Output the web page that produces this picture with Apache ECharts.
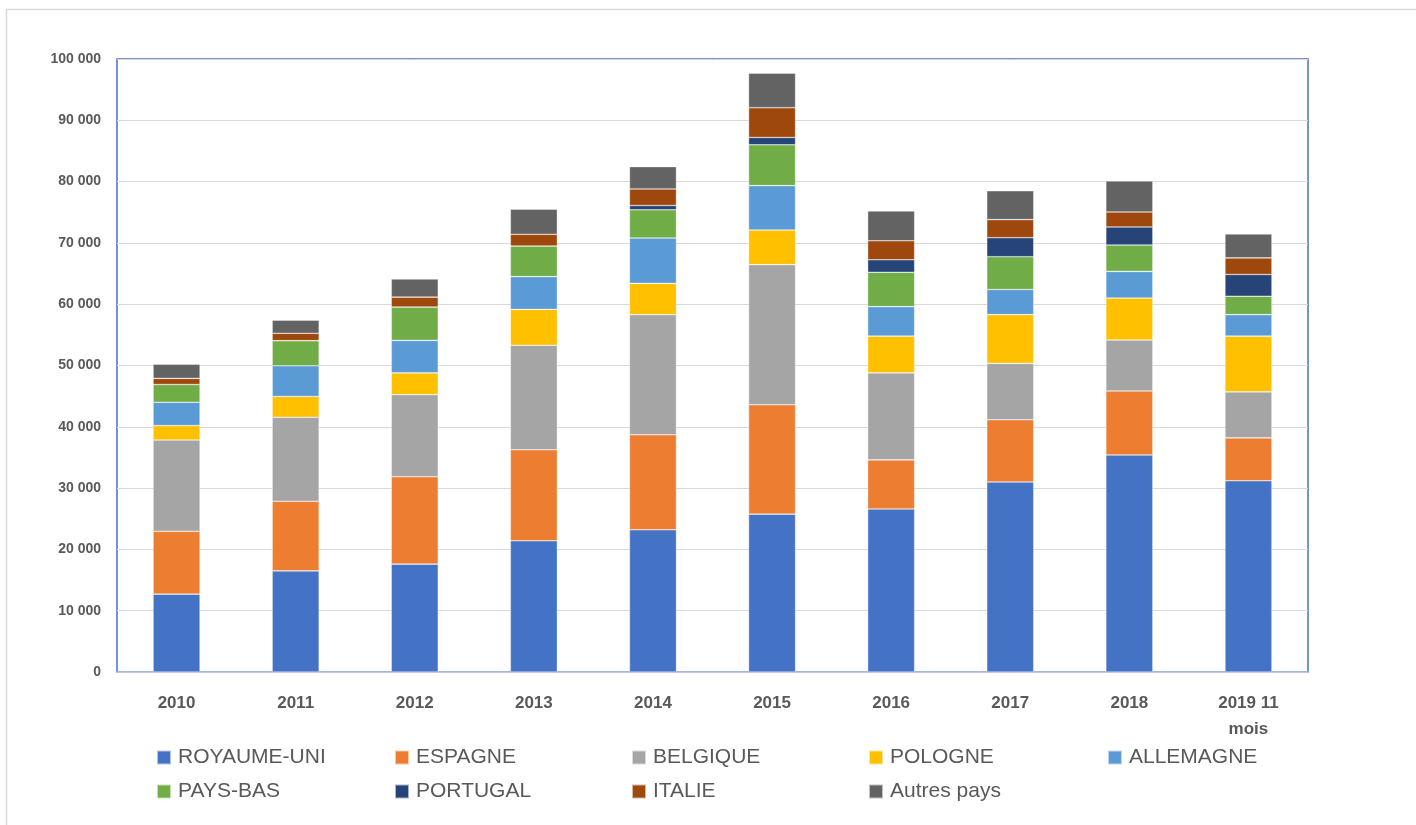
<!DOCTYPE html>
<html>
<head>
<meta charset="utf-8">
<script src="https://cdn.jsdelivr.net/npm/echarts@6/dist/echarts.min.js"></script>
<style>
html,body{margin:0;padding:0;background:#fff;}
#chart{width:1416px;height:825px;}
</style>
</head>
<body>
<div id="chart"></div>
<script>
const categories = ['2010','2011','2012','2013','2014','2015','2016','2017','2018','2019 11\nmois'];
const seriesNames = ['ROYAUME-UNI','ESPAGNE','BELGIQUE','POLOGNE','ALLEMAGNE','PAYS-BAS','PORTUGAL','ITALIE','Autres pays'];
const royaumeUni = [12700,16500,17600,21400,23200,25750,26600,31000,35400,31200];
const espagne    = [10250,11350,14250,14850,15500,17850,8000,10150,10450,7000];
const belgique   = [14900,13700,13400,17050,19600,22850,14200,9200,8300,7500];
const pologne    = [2350,3400,3550,5850,5100,5650,6000,7950,6850,9100];
const allemagne  = [3800,5000,5300,5350,7400,7250,4800,4100,4350,3500];
const paysBas    = [2900,4100,5450,5000,4600,6650,5600,5350,4300,3000];
const portugal   = [0,0,0,0,700,1200,2050,3100,2950,3550];
const italie     = [1000,1200,1600,1900,2700,4850,3100,2950,2450,2700];
const autres     = [2300,2150,2950,4100,3650,5650,4850,4700,5050,3900];
const yTicks = [0,10000,20000,30000,40000,50000,60000,70000,80000,90000,100000];

const seriesData = [royaumeUni,espagne,belgique,pologne,allemagne,paysBas,portugal,italie,autres];
const colors = ['#4472C4','#ED7D31','#A5A5A5','#FFC000','#5B9BD5','#70AD47','#264478','#9E480E','#636363'];
const legendPos = [
  [156,747],[394,747],[631,747],[868,747],[1107,747],
  [156,781],[394,781],[631,781],[868,781]
];

const chart = echarts.init(document.getElementById('chart'));
const fmt = v => String(v).replace(/\B(?=(\d{3})+(?!\d))/g, ' ');

chart.setOption({
  animation:false,
  backgroundColor:'#fff',
  color: colors,
  graphic:[{
    type:'rect', shape:{x:6.5,y:9.5,width:1500,height:900},
    style:{fill:'none',stroke:'#d9d9d9',lineWidth:1.5}, silent:true, z:-1
  }],
  grid:{left:117,right:108,top:59,bottom:153,show:true,borderColor:'#4472C4',borderWidth:1.5,backgroundColor:'transparent'},
  legend: seriesNames.map((n,i)=>({
    data:[n], left:legendPos[i][0], top:legendPos[i][1], padding:0,
    itemWidth:14, itemHeight:14, itemGap:7, icon:'rect',
    textStyle:{fontSize:21,color:'#595959',fontFamily:'Liberation Sans, Arial, sans-serif',padding:[0,0,0,2]}
  })),
  xAxis:{
    type:'category', data:categories,
    axisLine:{show:true,lineStyle:{color:'#b4c2dc',width:1.5}},
    axisTick:{show:false},
    axisLabel:{fontSize:17,fontWeight:'bold',color:'#595959',margin:18,lineHeight:26,interval:0,fontFamily:'Liberation Sans, Arial, sans-serif'}
  },
  yAxis:{
    type:'value', min:0, max:100000, interval:10000,
    axisLine:{show:false}, axisTick:{show:false},
    splitLine:{lineStyle:{color:'#d9d9d9',width:1}},
    axisLabel:{fontSize:14,fontWeight:'bold',color:'#595959',margin:16,fontFamily:'Liberation Sans, Arial, sans-serif',
      formatter:v=>fmt(v)}
  },
  series: seriesNames.map((n,i)=>({
    name:n, type:'bar', stack:'total', barWidth:47,
    data: seriesData[i],
    itemStyle:{color:colors[i],borderColor:'rgba(255,255,255,0.6)',borderWidth:0.6}
  }))
});
</script>
</body>
</html>
